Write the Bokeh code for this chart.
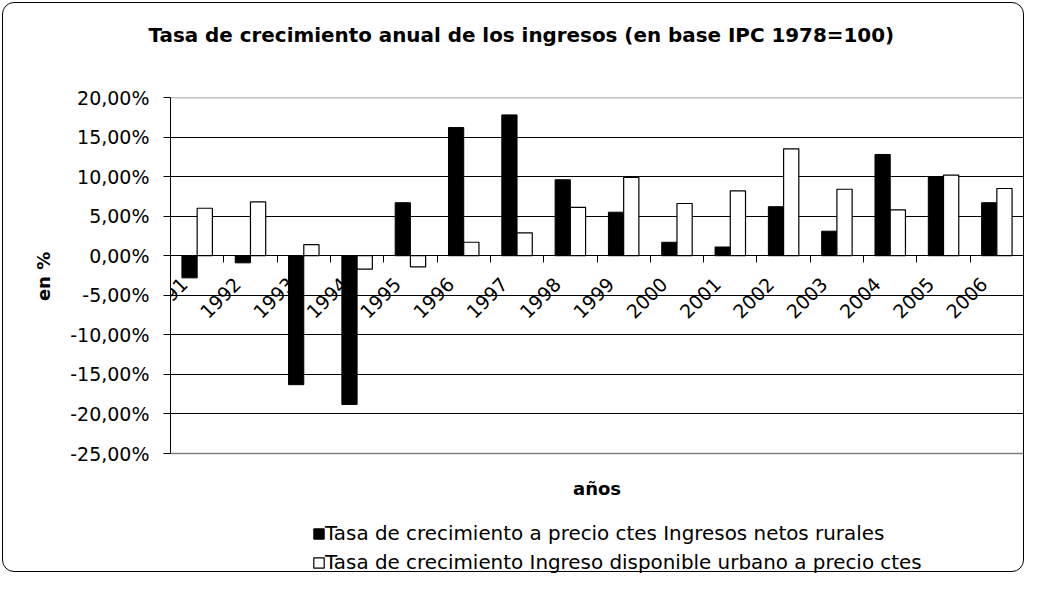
import math
from bokeh.plotting import figure
from bokeh.models import (Range1d, FixedTicker, LinearAxis, Legend, LegendItem,
                          Span, ColumnDataSource, Label)
from bokeh.transform import dodge
from bokeh.core.properties import value
from bokeh.embed import file_html
from bokeh.resources import INLINE

# ---------------- data ----------------
years = ["1991", "1992", "1993", "1994", "1995", "1996", "1997", "1998",
         "1999", "2000", "2001", "2002", "2003", "2004", "2005", "2006"]
rural = [-2.8, -0.9, -16.3, -18.8, 6.7, 16.2, 17.8, 9.6,
         5.5, 1.7, 1.1, 6.2, 3.1, 12.8, 10.0, 6.7]
urbano = [6.0, 6.8, 1.4, -1.7, -1.4, 1.7, 2.9, 6.1,
          9.9, 6.6, 8.2, 13.5, 8.4, 5.8, 10.2, 8.5]
y_ticks = [-25, -20, -15, -10, -5, 0, 5, 10, 15, 20]
y_tick_labels = ["-25,00%", "-20,00%", "-15,00%", "-10,00%", "-5,00%",
                 "0,00%", "5,00%", "10,00%", "15,00%", "20,00%"]
title_text = "Tasa de crecimiento anual de los ingresos (en base IPC 1978=100)"
label_rural = "Tasa de crecimiento a precio ctes Ingresos netos rurales"
label_urbano = "Tasa de crecimiento Ingreso disponible urbano a precio ctes"
x_label = "años"
y_label = "en %"

FONT = "DejaVu Sans"

# ---------------- layout constants ----------------
WIDTH, HEIGHT = 1026, 574
B_LEFT, B_RIGHT, B_TOP, B_BOTTOM = 170, 3, 97, 0
Y_MIN, Y_MAX = min(y_ticks), max(y_ticks)
AXIS_PX = 356.0                           # pixels spanned by -25..20
px_per_unit = AXIS_PX / (Y_MAX - Y_MIN)
frame_h = HEIGHT - B_TOP - B_BOTTOM
y_start = Y_MAX - frame_h / px_per_unit   # room below the axis for legend
# shift of the y-axis title towards the centre of the value axis
label_shift_px = (frame_h - AXIS_PX)
nbsp_count = int(round(label_shift_px / 6.4))

pos = [i + 0.5 for i in range(len(years))]
src = ColumnDataSource(dict(pos=pos, year=years, rural=rural, urbano=urbano,
                            zero=[0] * len(years)))

p = figure(width=WIDTH, height=HEIGHT, output_backend="svg", toolbar_location=None,
           x_range=Range1d(0, len(years)), y_range=Range1d(y_start, Y_MAX),
           x_axis_location=None,
           min_border_left=B_LEFT, min_border_right=B_RIGHT,
           min_border_top=B_TOP, min_border_bottom=B_BOTTOM)
p.styles = {"outline": "1.5px solid black", "outline-offset": "-3px",
            "border-radius": "14px"}
p.outline_line_color = None
p.background_fill_color = None
p.border_fill_color = None

# title
p.title.text = title_text
p.title.text_font = FONT
p.title.text_font_size = "19.9px"
p.title.text_font_style = "bold"
p.title.text_color = "black"
p.title.align = "left"
p.title.offset = -22
p.title.standoff = 10

# grid
p.xgrid.visible = False
p.ygrid.ticker = FixedTicker(ticks=y_ticks)
p.ygrid.grid_line_color = "black"
p.ygrid.grid_line_width = 1

# y axis
ya = p.yaxis[0]
ya.bounds = (Y_MIN, Y_MAX)
ya.ticker = FixedTicker(ticks=y_ticks)
ya.major_label_overrides = {t: l for t, l in zip(y_ticks, y_tick_labels)}
ya.major_label_text_font = FONT
ya.major_label_text_font_size = "19px"
ya.major_label_text_color = "black"
ya.major_label_standoff = 14
ya.major_tick_out = 7
ya.major_tick_in = 0
ya.minor_tick_out = 0
ya.minor_tick_in = 0
ya.axis_line_color = "black"
ya.major_tick_line_color = "black"
ya.axis_label = "\u00a0" * nbsp_count + y_label
ya.axis_label_text_font = FONT
ya.axis_label_text_font_size = "18px"
ya.axis_label_text_font_style = "bold"
ya.axis_label_text_color = "black"
ya.axis_label_standoff = 13

# category axis crossing at zero (tick marks between categories)
za = LinearAxis(fixed_location=0,
                ticker=FixedTicker(ticks=list(range(1, len(years) + 1))))
za.major_label_text_font_size = "0px"
za.major_label_overrides = {i: "" for i in range(0, len(years) + 1)}
za.major_label_standoff = 0
za.major_tick_out = 0
za.major_tick_in = 7
za.minor_tick_out = 0
za.minor_tick_in = 0
za.axis_line_color = "black"
za.major_tick_line_color = "black"
p.add_layout(za, "above")

# axis without visible marks, used only as a spacer between title and plot area
spacer = LinearAxis(ticker=FixedTicker(ticks=[len(years) / 2]), axis_line_color=None,
                    major_tick_line_color=None, major_tick_out=46, major_tick_in=0,
                    minor_tick_out=0, minor_tick_in=0,
                    major_label_text_font_size="0px",
                    major_label_overrides={len(years) / 2: ""},
                    major_label_standoff=0)
p.add_layout(spacer, "above")

# gray plot-area edges top & bottom
p.add_layout(Span(location=Y_MAX, dimension="width", line_color="#808080", line_width=1.5))
p.add_layout(Span(location=Y_MIN, dimension="width", line_color="#808080", line_width=1.5))

W = 2.0 / 7.0
r1 = p.vbar(x=dodge("pos", -W / 2, range=p.x_range), top="rural", bottom=0,
            width=W, source=src, fill_color="black", line_color="black")
r2 = p.vbar(x=dodge("pos", W / 2, range=p.x_range), top="urbano", bottom=0,
            width=W, source=src, fill_color="white", line_color="black",
            line_width=1.2)

# year labels
p.text(x="pos", y="zero", text="year", source=src, angle=math.pi / 4,
       text_align="right", text_baseline="top", x_offset=-18, y_offset=20,
       text_font=value(FONT), text_font_size="19px", text_color="black")

# x axis title
p.add_layout(Label(x=len(years) / 2, y=Y_MIN - 35 / px_per_unit, text=x_label,
                   text_align="center", text_baseline="middle",
                   text_font=FONT, text_font_size="18px",
                   text_font_style="bold", text_color="black"))

legend = Legend(items=[LegendItem(label=label_rural, renderers=[r1]),
                       LegendItem(label=label_urbano, renderers=[r2])],
                location=(142, 0), orientation="vertical",
                glyph_width=13, glyph_height=13, label_standoff=0,
                label_text_font=FONT, label_text_font_size="19.9px",
                label_text_color="black", label_height=20, spacing=6,
                padding=0, margin=0, border_line_color=None,
                background_fill_alpha=0)
p.add_layout(legend, "center")

open("out.html", "w").write(file_html(p, INLINE))
